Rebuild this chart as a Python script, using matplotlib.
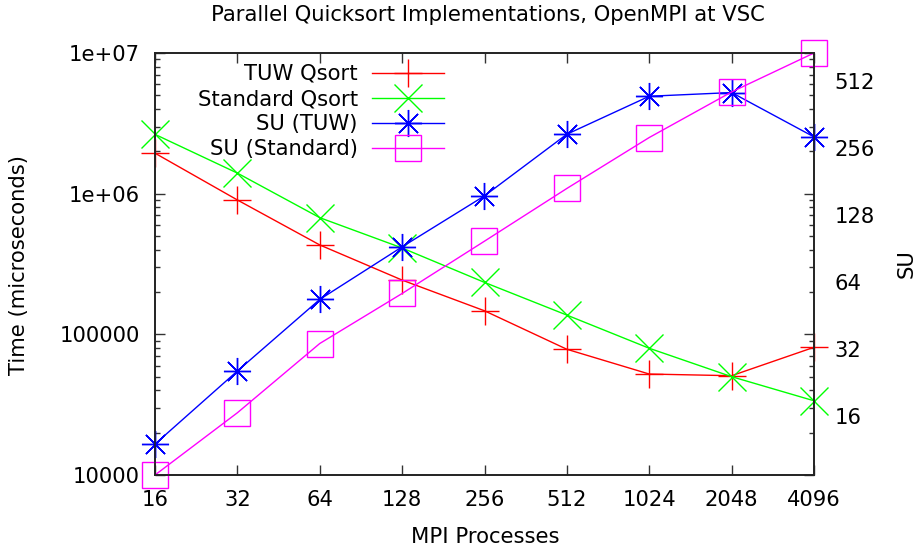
import matplotlib
matplotlib.use("Agg")
import matplotlib.pyplot as plt
from matplotlib.ticker import FixedLocator, NullFormatter, LogLocator
import numpy as np

plt.rcParams["font.family"] = "DejaVu Sans"
plt.rcParams["font.size"] = 15.2

# MPI processes
procs = [16, 32, 64, 128, 256, 512, 1024, 2048, 4096]

# run times (microseconds), left axis
time_tuw = [1.94e6, 9.02e5, 4.32e5, 2.43e5, 1.47e5, 7.83e4, 5.22e4, 5.08e4, 8.09e4]
time_std = [2.64e6, 1.40e6, 6.75e5, 4.11e5, 2.34e5, 1.37e5, 7.96e4, 5.00e4, 3.37e4]

# speed-up, right axis
su_tuw = [11.97, 25.5, 53.5, 92.2, 156.3, 295.9, 438.4, 455.5, 287.8]
su_std = [8.69, 16.55, 33.9, 56.9, 97.8, 168.8, 286.0, 458.4, 686.0]

su_ticks = [16, 32, 64, 128, 256, 512]

fig = plt.figure(figsize=(9.16, 5.47), dpi=100)
ax = fig.add_axes([155 / 916, 1 - 475 / 547, 659 / 916, 422 / 547])
ax2 = ax.twinx()

ms = 19.5
l1, = ax.plot(procs, time_tuw, color="#ff0000", lw=1.0, marker="+", ms=ms, mew=1.0,
              label="TUW Qsort")
l2, = ax.plot(procs, time_std, color="#00ff00", lw=1.0, marker="x", ms=ms, mew=1.0,
              label="Standard Qsort")
l3, = ax2.plot(procs, su_tuw, color="#0000ff", lw=1.0, marker=(8, 2, 0), ms=ms, mew=1.0,
               label="SU (TUW)")
l4, = ax2.plot(procs, su_std, color="#ff00ff", lw=1.0, marker="s", ms=ms * 0.98, mew=1.0,
               mfc="none", label="SU (Standard)")
for l in (l1, l2, l3, l4):
    l.set_clip_on(False)

# x axis, log2
ax.set_xscale("log", base=2)
ax.set_xlim(procs[0], procs[-1])
ax.xaxis.set_major_locator(FixedLocator(procs))
ax.set_xticklabels([str(p) for p in procs])
ax.xaxis.set_minor_formatter(NullFormatter())
ax.xaxis.set_minor_locator(FixedLocator([]))

# left y axis, log10
ax.set_yscale("log")
ax.set_ylim(1e4, 1e7)
ax.yaxis.set_major_locator(FixedLocator([1e4, 1e5, 1e6, 1e7]))
ax.set_yticklabels(["10000", "100000", "1e+06", "1e+07"])
ax.yaxis.set_minor_locator(LogLocator(base=10, subs=np.arange(2, 10)))
ax.yaxis.set_minor_formatter(NullFormatter())

ax.tick_params(which="both", direction="in", top=True, right=True, width=1.0, color="#333333")
ax.tick_params(which="major", length=7.5)
ax.tick_params(which="minor", length=3.8)
ax.tick_params(axis="y", which="major", pad=11)
ax.tick_params(axis="x", which="major", pad=11)

# right y axis, log2
ax2.set_yscale("log", base=2)
ax2.set_ylim(min(su_std), max(su_std))
ax2.yaxis.set_major_locator(FixedLocator(su_ticks))
ax2.set_yticklabels([str(t) for t in su_ticks])
ax2.yaxis.set_minor_locator(FixedLocator([]))
ax2.tick_params(axis="y", which="both", length=0, pad=15)

for a in (ax, ax2):
    for s in a.spines.values():
        s.set_linewidth(1.2)
        s.set_color("#222222")

fig.text(488 / 916, 1 - 15 / 547, "Parallel Quicksort Implementations, OpenMPI at VSC",
         ha="center", va="center")
fig.text(485 / 916, 1 - 537 / 547, "MPI Processes", ha="center", va="center")
fig.text(19 / 916, 1 - 265 / 547, "Time (microseconds)", rotation=90, ha="center", va="center")
fig.text(907 / 916, 1 - 264 / 547, "SU", rotation=90, ha="center", va="center")

leg = ax2.legend(handles=[l1, l2, l3, l4], loc="upper right",
                 bbox_to_anchor=(444 / 916, 1 - 64 / 547), bbox_transform=fig.transFigure,
                 frameon=False, markerfirst=False, borderpad=0, borderaxespad=0,
                 handlelength=3.42, handletextpad=0.66, labelspacing=0.24)

fig.savefig("out.png", dpi=100)
